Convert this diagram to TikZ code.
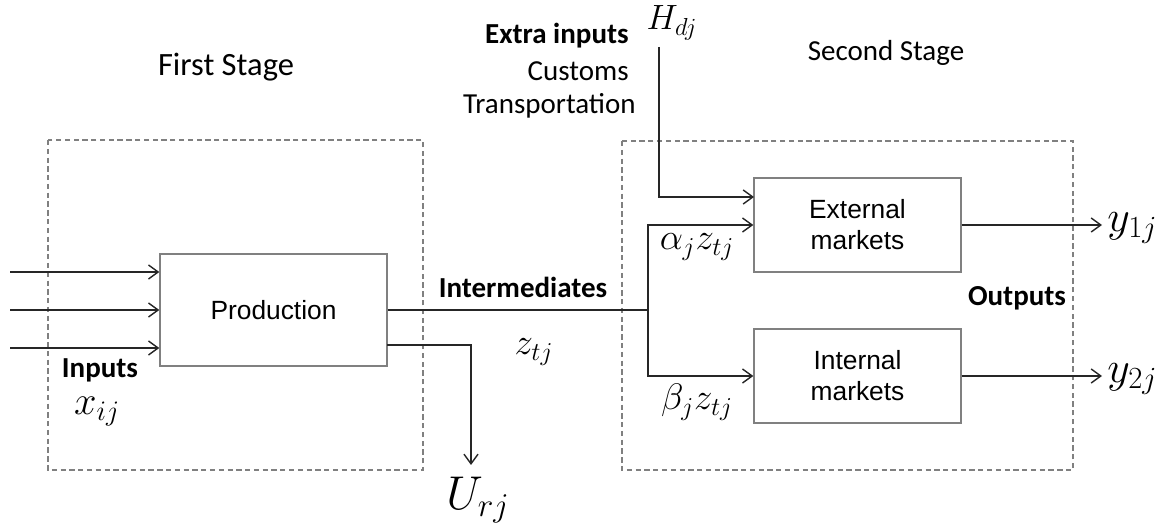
\RequirePackage{fix-cm}
\documentclass[tikz,border=0pt]{standalone}
\usepackage{fontspec}
\setmainfont{Carlito}
\newfontfamily\boxfont{Liberation Sans}
\usepackage{tikz}
\usetikzlibrary{arrows.meta}
\tikzset{block/.style = {draw=gray, line width=0.8pt, inner sep=0pt, align=center,
                         font=\boxfont\fontsize{15}{17.6}\selectfont},
         stage/.style = {draw=gray, line width=0.6pt, dash pattern=on 3pt off 2pt},
         flow/.style  = {draw=black!85, line width=0.8pt},
         feed/.style  = {flow, -{Straight Barb[length=5.5pt,width=8pt]}},
         word/.style  = {font=\fontsize{16.5}{20}\selectfont, inner sep=0pt},
         sym/.style   = {font=\fontsize{21}{24}\selectfont, inner sep=0pt}}

\begin{document}
\begin{tikzpicture}[x=0.02cm, y=-0.02cm]
    \useasboundingbox (0,0) rectangle (1170,526);
    % the two stages
    \draw[stage] (48,140) rectangle (423,470);
    \draw[stage] (622,141) rectangle (1073,470);
    \node[word, font=\fontsize{18.5}{22}\selectfont] (first) at (226,67) {First Stage};
    \node[word] (second) at (886,53) {Second Stage};

    % blocks
    \node[block, minimum width=4.54cm, minimum height=2.24cm] (prod) at (273.5,310) {Production};
    \node[block, minimum width=4.14cm, minimum height=1.88cm] (ext) at (857.5,225) {External\\markets};
    \node[block, minimum width=4.14cm, minimum height=1.88cm] (int) at (857.5,376) {Internal\\markets};

    % inputs
    \coordinate (in1) at (10,272);
    \coordinate (in2) at (10,310);
    \coordinate (in3) at (10,348);
    \foreach \i in {1,2,3}
        \draw[feed] (in\i) -- (prod.west |- in\i);
    \node[word, font=\bfseries\fontsize{16.5}{20}\selectfont] (inputs) at (100,370) {Inputs};
    \node[sym, font=\fontsize{23}{26}\selectfont] (xij) at (97,412) {$x_{ij}$};

    % intermediates and their split
    \coordinate (split) at (648,310);
    \draw[flow] (prod.east) -- (split);
    \draw[feed] (split) |- (ext.west);
    \draw[feed] (split) |- (int.west);
    \node[word, font=\bfseries\fontsize{16.5}{20}\selectfont] (inter) at (523,287) {Intermediates};
    \node[sym] (ztj) at (534,352) {$z_{tj}$};
    \node[sym] (azt) at (697,247) {$\alpha_j z_{tj}$};
    \node[sym] (bzt) at (697,402) {$\beta_j z_{tj}$};

    % residuals
    \coordinate (uout) at (387,345);
    \coordinate (uend) at (471,465);
    \draw[feed] (uout) -| (uend);
    \node[sym, font=\fontsize{27}{30}\selectfont] (urj) at (478,500) {$U_{rj}$};

    % extra inputs
    \coordinate (hin) at (659,47);
    \coordinate (hend) at (754,197);
    \draw[feed] (hin) |- (hend);
    \node[sym, font=\fontsize{20}{23}\selectfont] (hdj) at (672,23) {$H_{dj}$};
    \node[word, font=\bfseries\fontsize{16.5}{20}\selectfont, anchor=east] (extra) at (629,36) {Extra inputs};
    \node[word, anchor=east] (customs) at (629,71) {Customs};
    \node[word, anchor=east] (transp) at (636,106) {Transportation};

    % outputs
    \coordinate (y1) at (1102,225);
    \coordinate (y2) at (1102,376);
    \draw[feed] (ext.east) -- (y1);
    \draw[feed] (int.east) -- (y2);
    \node[sym, font=\fontsize{25}{28}\selectfont, anchor=west] (y1j) at (1107,228) {$y_{1j}$};
    \node[sym, font=\fontsize{25}{28}\selectfont, anchor=west] (y2j) at (1107,379) {$y_{2j}$};
    \node[word, font=\bfseries\fontsize{16.5}{20}\selectfont] (outputs) at (1017,298) {Outputs};
\end{tikzpicture}
\end{document}
